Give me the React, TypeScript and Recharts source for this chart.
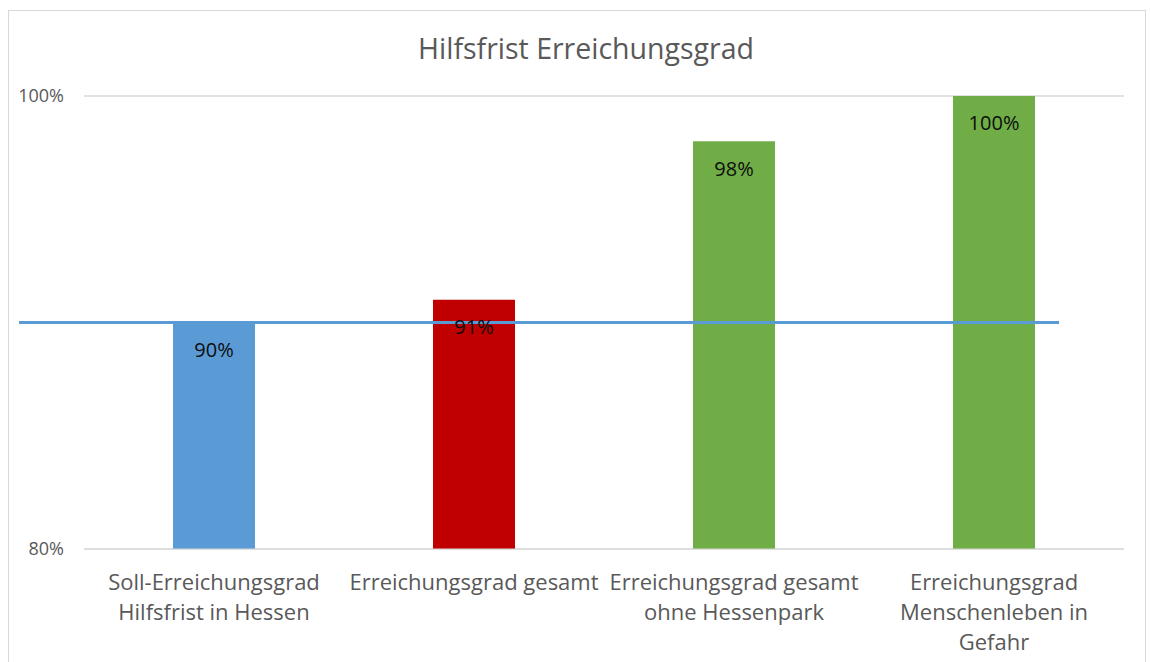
import React from 'react';
import { BarChart, Bar, XAxis, YAxis, CartesianGrid, ReferenceLine, LabelList, Cell } from 'recharts';

const categories = [
  'Soll-Erreichungsgrad Hilfsfrist in Hessen',
  'Erreichungsgrad gesamt',
  'Erreichungsgrad gesamt ohne Hessenpark',
  'Erreichungsgrad Menschenleben in Gefahr',
];
const tickLines = [
  ['Soll-Erreichungsgrad', 'Hilfsfrist in Hessen'],
  ['Erreichungsgrad gesamt'],
  ['Erreichungsgrad gesamt', 'ohne Hessenpark'],
  ['Erreichungsgrad', 'Menschenleben in', 'Gefahr'],
];
const values = [90, 91, 98, 100];
const barColors = ['#5B9BD5', '#C00000', '#70AD47', '#70AD47'];
const yTicks = [80, 100];
const target = 90;
// extent of the target line on the hidden index axis (category index units)
const targetSpan = [-0.75, 3.25];

const data = categories.map((name, i) => ({ name, idx: i, value: values[i] }));

const FONT = '"Open Sans", sans-serif';

function CategoryTick(props: any) {
  const { x, y, index } = props;
  const lines = tickLines[index] || [];
  return (
    <text x={x} y={y} textAnchor="middle" fill="#595959" fontSize={22} fontFamily={FONT}>
      {lines.map((l, i) => (
        <tspan key={i} x={x} dy={i === 0 ? 33 : 30}>
          {l}
        </tspan>
      ))}
    </text>
  );
}

export default function App() {
  return (
    <div style={{ position: 'absolute', left: 0, top: 0, width: 1150, height: 662, background: '#fff', overflow: 'hidden' }}>
      <div
        style={{
          position: 'absolute',
          left: 8,
          top: 10,
          width: 1138,
          height: 700,
          border: '1px solid #d9d9d9',
          boxSizing: 'border-box',
        }}
      />
      <div
        style={{
          position: 'absolute',
          left: 8,
          width: 1156,
          top: 29,
          textAlign: 'center',
          fontFamily: FONT,
          fontSize: 28.5,
          color: '#595959',
        }}
      >
        Hilfsfrist Erreichungsgrad
      </div>
      <div style={{ position: 'absolute', left: 0, top: 0 }}>
        <BarChart
          width={1150}
          height={662}
          data={data}
          margin={{ top: 96, right: 26, bottom: 0, left: 0 }}
        >
          <CartesianGrid vertical={false} stroke="#d9d9d9" strokeWidth={1.5} />
          <XAxis
            dataKey="name"
            height={113}
            axisLine={{ stroke: '#d9d9d9' }}
            tickLine={false}
            interval={0}
            tick={<CategoryTick />}
          />
          <XAxis
            xAxisId="ref"
            dataKey="idx"
            type="number"
            domain={[-0.5, 3.5]}
            allowDataOverflow
            hide
          />
          <YAxis
            width={84}
            domain={[80, 100]}
            ticks={yTicks}
            allowDataOverflow
            axisLine={false}
            tickLine={false}
            tickSize={0}
            tickMargin={20}
            tickFormatter={(v: number) => `${v}%`}
            tick={{ fill: '#595959', fontSize: 18, fontFamily: FONT }}
          />
          <Bar dataKey="value" barSize={82} isAnimationActive={false}>
            {data.map((d, i) => (
              <Cell key={d.name} fill={barColors[i]} />
            ))}
            <LabelList
              dataKey="value"
              position="insideTop"
              offset={20}
              formatter={(v: any) => `${v}%`}
              style={{ fill: '#0d0d0d', fontSize: 20, fontFamily: FONT }}
            />
          </Bar>
          <ReferenceLine
            xAxisId="ref"
            ifOverflow="visible"
            segment={[
              { x: targetSpan[0], y: target },
              { x: targetSpan[1], y: target },
            ]}
            stroke="#5B9BD5"
            strokeWidth={3}
          />
        </BarChart>
      </div>
    </div>
  );
}
